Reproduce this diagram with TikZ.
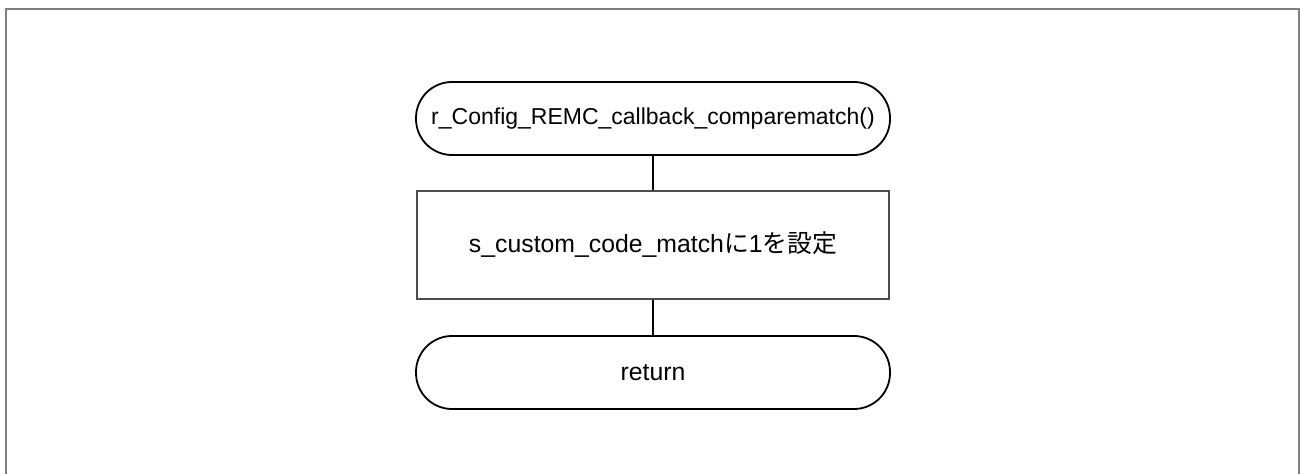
\documentclass[tikz,border=0pt]{standalone}
\usepackage{fontspec}
\setmainfont{Liberation Sans}
\newfontfamily\jpfont{Noto Sans CJK JP}
\usepackage{tikz}

\begin{document}
\begin{tikzpicture}[x=0.5pt,y=-0.5pt,
  terminal/.style={draw, line width=0.9pt, rectangle, rounded corners=18pt,
    minimum width=237pt, minimum height=36.5pt, inner sep=0pt,
    font=\fontsize{12.4}{15}\selectfont},
  process/.style={draw=black!70, line width=0.8pt, rectangle,
    minimum width=236pt, minimum height=54pt, inner sep=0pt,
    font=\fontsize{12.4}{15}\selectfont},
  link/.style={line width=1pt}]
  \useasboundingbox (0,0) rectangle (1300,474);

  % outer frame, open at the bottom
  \draw [gray, line width=1pt] (6,474) -- (6,9) -- (1299,9) -- (1299,474);

  \node[terminal, font=\fontsize{11.5}{14}\selectfont] (Start) at (653,118.5) {r\_Config\_REMC\_callback\_comparematch()};
  \node[process] (SetMatch) at (653,245) {s\_custom\_code\_match{\jpfont に}1{\jpfont を設定}};
  \node[terminal] (Return) at (653,372.5) {return};

  \draw [link] (Start) -- (SetMatch);
  \draw [link] (SetMatch) -- (Return);

\end{tikzpicture}
\end{document}
